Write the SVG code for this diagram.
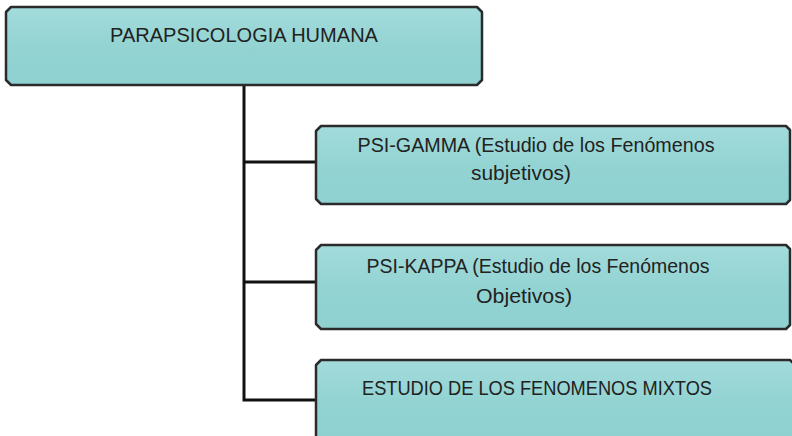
<svg xmlns="http://www.w3.org/2000/svg" width="792" height="436" viewBox="0 0 792 436">
<defs>
<linearGradient id="g" x1="0" y1="0" x2="0" y2="1">
<stop offset="0" stop-color="#a3dbdb"/>
<stop offset="0.5" stop-color="#93d4d3"/>
<stop offset="1" stop-color="#8ed1d0"/>
</linearGradient>
</defs>
<style>
.box{fill:url(#g);stroke:#2b2b2b;stroke-width:2.5;stroke-linejoin:round}
.t{font-family:"Liberation Sans",Arial,sans-serif;font-size:21px;fill:#222;text-anchor:middle}
.c{fill:none;stroke:#111;stroke-width:3}
</style>
<rect width="792" height="436" fill="#fff"/>
<g id="connectors">
<path class="c" d="M244 85 V400 H316"/>
<path class="c" d="M244 162 H316"/>
<path class="c" d="M244 282 H316"/>
</g>
<g id="root">
<path class="box" d="M11 7 H477 L482 12 V80 L477 85 H11 L6 80 V12 Z"/>
<text class="t" x="244" y="42" textLength="268" lengthAdjust="spacingAndGlyphs">PARAPSICOLOGIA HUMANA</text>
</g>
<g id="psi-gamma">
<path class="box" d="M321 126 H786 L790 130 V200 L786 204 H321 L316 199 V131 Z"/>
<text class="t" x="536" y="152" textLength="357" lengthAdjust="spacingAndGlyphs">PSI-GAMMA (Estudio de los Fenómenos</text>
<text class="t" x="521" y="180" textLength="100" lengthAdjust="spacingAndGlyphs">subjetivos)</text>
</g>
<g id="psi-kappa">
<path class="box" d="M321 245 H786 L790 249 V325 L786 329 H321 L316 324 V250 Z"/>
<text class="t" x="538" y="273" textLength="343" lengthAdjust="spacingAndGlyphs">PSI-KAPPA (Estudio de los Fenómenos</text>
<text class="t" x="524" y="303" textLength="96" lengthAdjust="spacingAndGlyphs">Objetivos)</text>
</g>
<g id="mixtos">
<path class="box" d="M321 360 H790 L795 365 V440 H316 V365 Z"/>
<text class="t" x="537" y="395" textLength="350" lengthAdjust="spacingAndGlyphs">ESTUDIO DE LOS FENOMENOS MIXTOS</text>
</g>
</svg>
